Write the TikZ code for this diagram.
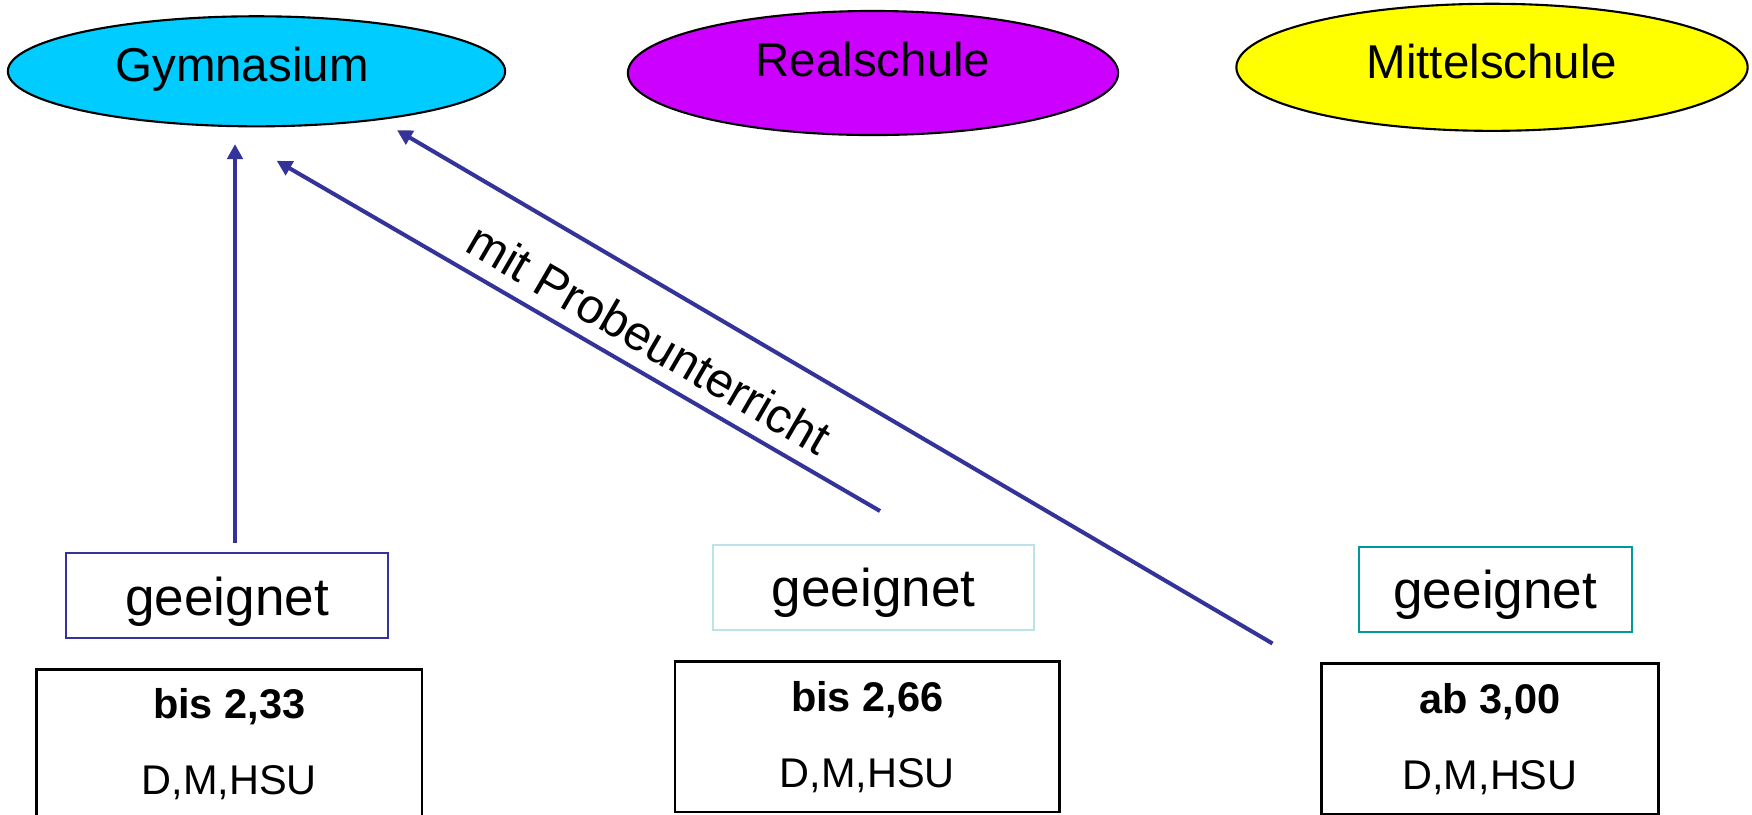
\documentclass[tikz,border=0pt]{standalone}
\usepackage{fontspec}
\setmainfont{Liberation Sans}
\usepackage{tikz}
\usetikzlibrary{arrows.meta,shapes.geometric}

\definecolor{gymblue}{HTML}{00CCFF}
\definecolor{realviolet}{HTML}{CC00FF}
\definecolor{mittelyellow}{HTML}{FFFF00}
\definecolor{pfeilblue}{HTML}{333399}
\definecolor{palecyan}{HTML}{BCE3E8}
\definecolor{tealgreen}{HTML}{009999}

\begin{document}
\begin{tikzpicture}[x=0.01cm,y=-0.01cm]
        \tikzstyle{schulnode}=[
            ellipse,
            draw=black,
            line width=0.6pt,
            inner sep=0pt,
            text height=9.5pt,
            font=\fontsize{13.5}{16}\selectfont
        ]
        \tikzstyle{eignungnode}=[
            rectangle,
            line width=0.6pt,
            minimum height=0.85cm,
            text depth=0pt,
            font=\fontsize{15.1}{18}\selectfont
        ]
        \tikzstyle{notennode}=[
            rectangle,
            draw=black,
            line width=0.7pt,
            minimum height=1.5cm,
            align=center,
            font=\fontsize{11.8}{21.6}\selectfont
        ]
        \tikzstyle{pfeil}=[
            -{Triangle[length=4.3pt,width=4.4pt]},
            draw=pfeilblue,
            line width=1.15pt
        ]

        \useasboundingbox (0,0) rectangle (1752,814);

        \node[schulnode, fill=gymblue, minimum width=4.97cm, minimum height=1.1cm, text depth=3.6pt] (gym) at (256.5,71.3){Gymnasium\hspace*{0.29cm}};
        \node[schulnode, fill=realviolet, minimum width=4.9cm, minimum height=1.24cm, text depth=7.4pt] (real) at (873,73){Realschule};
        \node[schulnode, fill=mittelyellow, minimum width=5.11cm, minimum height=1.27cm, text depth=3.2pt] (mittel) at (1492,67.3){Mittelschule};

        \node[eignungnode, draw=pfeilblue, minimum width=3.21cm] (geeA) at (227,595.8){geeignet};
        \node[eignungnode, draw=palecyan, minimum width=3.21cm] (geeB) at (873.8,587.5){geeignet};
        \node[eignungnode, draw=tealgreen, minimum width=2.73cm] (geeC) at (1495.3,589.5){geeignet};

        \node[notennode, minimum width=3.85cm] (noteA) at (229.2,744.3){\textbf{bis 2,33}\\D,M,HSU};
        \node[notennode, minimum width=3.84cm] (noteB) at (867.2,736.7){\textbf{bis 2,66}\\D,M,HSU};
        \node[notennode, minimum width=3.37cm] (noteC) at (1490,738.7){\textbf{ab 3,00}\\D,M,HSU};

        \coordinate (startA) at (235,543);
        \coordinate (startB) at (880,511);
        \coordinate (startC) at (1272.5,643.5);

        \draw[pfeil] (startA) -- ([shift={(-21.5,16.7)}]gym.south);
        \draw[pfeil] (startB) -- node[sloped, above, pos=0.41, inner sep=3.8pt, font=\fontsize{13.8}{16}\selectfont]{mit Probeunterricht} ([shift={(20.2,33.4)}]gym.south);
        \draw[pfeil] (startC) -- ([shift={(140.5,2.7)}]gym.south);

    \end{tikzpicture}
\end{document}
